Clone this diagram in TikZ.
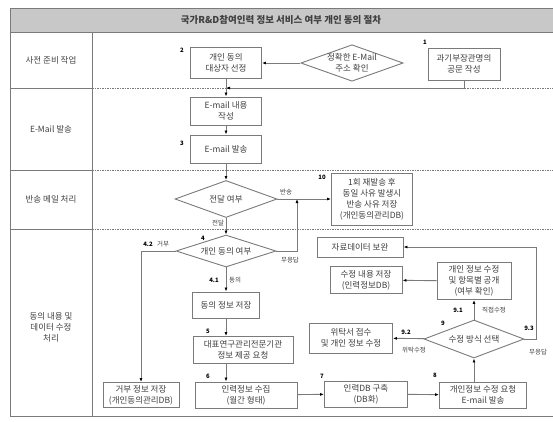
\documentclass[tikz,border=0pt]{standalone}
\usepackage{fontspec}
\setmainfont{Noto Sans CJK KR}
\usetikzlibrary{shapes.geometric,arrows.meta}
\definecolor{lineg}{HTML}{7A7A7A}
\definecolor{textg}{HTML}{404040}
\definecolor{barg}{HTML}{C8C8C8}
\tikzset{
  box/.style={draw=lineg, line width=0.9pt, fill=white, align=center, text=textg,
    inner sep=1pt, font=\fontsize{8.5}{11}\selectfont},
  dia/.style={draw=lineg, line width=0.9pt, fill=white, diamond, aspect=2.8, inner sep=0pt,
    align=center, text=textg, font=\fontsize{8.5}{11}\selectfont},
  lane/.style={text=textg, align=center, font=\fontsize{8.5}{11}\selectfont},
  lbl/.style={text=textg, inner sep=0pt, font=\fontsize{6.5}{8}\selectfont},
  num/.style={text=black, inner sep=0pt, font=\bfseries\fontsize{6}{7}\selectfont},
  link/.style={draw=lineg, line width=0.9pt},
  arr/.style={link, -{Latex[length=4pt,width=3pt,color=black]}},
  sep/.style={draw=lineg, line width=0.7pt, dash pattern=on 1.5pt off 1pt},
}
\begin{document}
\begin{tikzpicture}[x=1pt, y=-1pt]
\useasboundingbox (0,0) rectangle (553,421);
% frame and lanes
\draw[draw=lineg, line width=1pt, fill=barg] (10,8) rectangle (553,32);
\draw[draw=lineg, line width=1pt] (10,32) -- (10,416) -- (553,416);
\draw[draw=lineg, line width=1pt] (92,32) -- (92,416);
\foreach \y in {88,170,229} {
  \draw[draw=lineg, line width=1pt] (10,\y) -- (92,\y);
  \draw[sep] (92,\y) -- (553,\y);
}
\node[font=\bfseries\fontsize{9.5}{11}\selectfont, text=textg] (title) at (281,20) {국가R\&D참여인력 정보 서비스 여부 개인 동의 절차};
\node[lane] (lane1) at (51,60) {사전 준비 작업};
\node[lane] (lane2) at (51,129) {E-Mail 발송};
\node[lane] (lane3) at (51,199) {반송 메일 처리};
\node[lane] (lane4) at (51,327) {동의 내용 및\\데이터 수정\\처리};

% step boxes
\node[box, minimum width=71pt, minimum height=31pt] (select) at (226,63) {개인 동의\\대상자 선정};
\node[dia, minimum width=101pt, minimum height=36pt] (check) at (352,63) {정확한 E-Mail\\주소 확인};
\node[box, minimum width=72pt, minimum height=32pt] (letter) at (464,64) {과기부장관명의\\공문 작성};
\coordinate (join) at (226,88);
\node[box, minimum width=71pt, minimum height=28pt] (write) at (226,111) {E-mail 내용\\작성};
\node[box, minimum width=71pt, minimum height=28pt] (send) at (226,149) {E-mail 발송};
\node[dia, minimum width=102pt, minimum height=37pt] (deliver) at (226,199) {전달 여부};
\node[box, minimum width=81pt, minimum height=52pt] (bounce) at (372,199) {1회 재발송 후\\동일 사유 발생시\\반송 사유 저장\\(개인동의관리DB)};
\coordinate (merge) at (297,199);
\node[dia, minimum width=100pt, minimum height=32pt] (consent) at (226,251) {개인 동의 여부};
\node[box, minimum width=67pt, minimum height=26pt] (agree) at (226,305) {동의 정보 저장};
\node[box, minimum width=100pt, minimum height=27pt] (request) at (243,350) {대표연구관리전문기관\\정보 제공 요청};
\node[box, minimum width=102pt, minimum height=26pt] (collect) at (246,395) {인력정보 수집\\(월간 형태)};
\node[box, minimum width=76pt, minimum height=25pt] (reject) at (141,395) {거부 정보 저장\\(개인동의관리DB)};
\node[box, minimum width=83pt, minimum height=26pt] (build) at (366,394) {인력DB 구축\\(DB화)};
\node[box, minimum width=87pt, minimum height=26pt] (mailreq) at (483,395) {개인정보 수정 요청\\E-mail 발송};
\node[dia, minimum width=100pt, minimum height=38pt] (method) at (474,339) {수정 방식 선택};
\node[box, minimum width=74pt, minimum height=37pt] (direct) at (474,281) {개인 정보 수정\\및 항목별 공개\\(여부 확인)};
\node[box, minimum width=72pt, minimum height=27pt] (saveedit) at (366,280) {수정 내용 저장\\(인력정보DB)};
\node[box, minimum width=83pt, minimum height=30pt] (consign) at (351,338) {위탁서 접수\\및 개인 정보 수정};
\node[box, minimum width=86pt, minimum height=20pt] (supplement) at (360,247) {자료데이터 보완};

% step numbers
\node[num] (n1) at (425,42) {1};
\node[num] (n2) at (182,50) {2};
\node[num] (n3) at (182,143) {3};
\node[num] (n4) at (203,238) {4};
\node[num] (n5) at (208,331) {5};
\node[num] (n6) at (208,376) {6};
\node[num] (n7) at (322,376) {7};
\node[num] (n8) at (435,375) {8};
\node[num] (n9) at (443,323) {9};
\node[num] (n10) at (322,177) {10};

% connectors
\draw[arr] (check) -- (select);
\draw[arr] (letter) |- (join);
\draw[link] (select) -- (join);
\draw[arr] (join) -- (write);
\draw[arr] (write) -- (send);
\draw[arr] (send) -- (deliver);
\draw[arr] (deliver) -- (bounce);
\draw[arr] (consent.east) -| (merge);
\draw[arr] (deliver) -- (consent);
\draw[arr] (consent.west) -| (reject.north);
\draw[arr] (consent) -- (agree);
\draw[arr] (agree) -- (agree.south |- request.north);
\draw[arr] (agree.south |- request.south) -- (agree.south |- collect.north);
\draw[arr] (collect) -- (build);
\draw[arr] (build) -- (mailreq);
\draw[arr] (method.south |- mailreq.north) -- (method);
\draw[arr] (method) -- (direct);
\draw[arr] (direct) -- (saveedit);
\draw[arr] (method) -- (consign);
\draw[arr] (method.east) -- ++(12,0) |- (supplement);

% branch labels
\node[lbl] (tBounce) at (286,192) {반송};
\node[lbl] (tPass) at (218,223) {전달};
\node[lbl] (tNoans) at (290,260) {무응답};
\node[num] (t42) at (148,244) {4.2};
\node[lbl] (tDeny) at (163,244) {거부};
\node[num] (t41) at (214,280) {4.1};
\node[lbl] (tAgree) at (235,280) {동의};
\node[num] (t91) at (458,310) {9.1};
\node[lbl] (tDirect) at (494,310) {직접수정};
\node[num] (t92) at (406,332) {9.2};
\node[lbl] (tConsign) at (414,350) {위탁수정};
\node[num] (t93) at (529,328) {9.3};
\node[lbl] (tNoans2) at (538,352) {무응답};
\end{tikzpicture}
\end{document}
